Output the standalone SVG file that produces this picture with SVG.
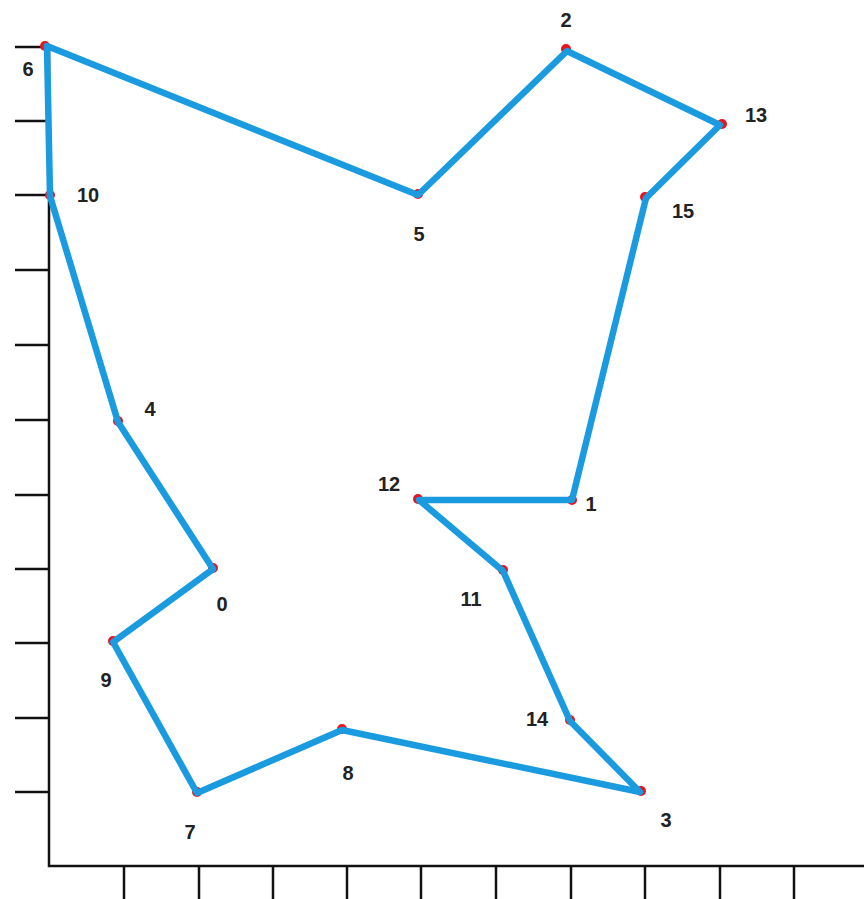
<svg xmlns="http://www.w3.org/2000/svg" width="864" height="899" viewBox="0 0 864 899">
<style>
.ax{stroke:#111;stroke-width:2.5;fill:none}
.ln{stroke:#1a9be0;stroke-width:6.5;fill:none;stroke-linejoin:round;stroke-linecap:round}
.pt{fill:#e8141e}
.lb{font-family:"Liberation Sans",Arial,sans-serif;font-weight:bold;font-size:20px;fill:#222;text-anchor:middle}
</style>
<rect width="864" height="899" fill="#fff"/>
<g id="axes">
<path class="ax" d="M49 45 V866 H864"/>
<path class="ax" d="M15 47 H49 M15 121 H49 M15 195 H49 M15 270 H49 M15 345 H49 M15 420 H49 M15 495 H49 M15 569 H49 M15 643 H49 M15 718 H49 M15 792 H49"/>
<path class="ax" d="M124 866 V899 M199 866 V899 M273 866 V899 M347 866 V899 M421 866 V899 M496 866 V899 M571 866 V899 M645 866 V899 M720 866 V899 M794 866 V899"/>
</g>
<g id="points">
<circle class="pt" cx="45" cy="46" r="5"/>
<circle class="pt" cx="50" cy="195" r="5"/>
<circle class="pt" cx="118" cy="421" r="5"/>
<circle class="pt" cx="213" cy="568" r="5"/>
<circle class="pt" cx="113" cy="641" r="5"/>
<circle class="pt" cx="197" cy="792" r="5"/>
<circle class="pt" cx="342" cy="729" r="5"/>
<circle class="pt" cx="641" cy="791" r="5"/>
<circle class="pt" cx="570" cy="720" r="5"/>
<circle class="pt" cx="503" cy="570" r="5"/>
<circle class="pt" cx="418" cy="499" r="5"/>
<circle class="pt" cx="572" cy="500" r="5"/>
<circle class="pt" cx="645" cy="197" r="5"/>
<circle class="pt" cx="722" cy="124" r="5"/>
<circle class="pt" cx="566" cy="49" r="5"/>
<circle class="pt" cx="418" cy="194" r="5"/>
</g>
<g id="connectors">
<path class="ln" d="M47 46 L418 195 L567 51 L720 125 L646 198 L572 500 L419 500 L503 571 L570 721 L640 792 L342 730 L197 793 L113 642 L213 569 L118 422 L50 196 Z"/>
</g>
<g id="labels">
<text class="lb" x="28" y="76">6</text>
<text class="lb" x="88" y="202">10</text>
<text class="lb" x="150" y="416">4</text>
<text class="lb" x="222" y="611">0</text>
<text class="lb" x="106" y="687">9</text>
<text class="lb" x="190" y="839">7</text>
<text class="lb" x="348" y="780">8</text>
<text class="lb" x="666" y="827">3</text>
<text class="lb" x="537" y="726">14</text>
<text class="lb" x="471" y="606">11</text>
<text class="lb" x="389" y="491">12</text>
<text class="lb" x="591" y="511">1</text>
<text class="lb" x="683" y="218">15</text>
<text class="lb" x="756" y="122">13</text>
<text class="lb" x="566" y="27">2</text>
<text class="lb" x="419" y="241">5</text>
</g>
</svg>
